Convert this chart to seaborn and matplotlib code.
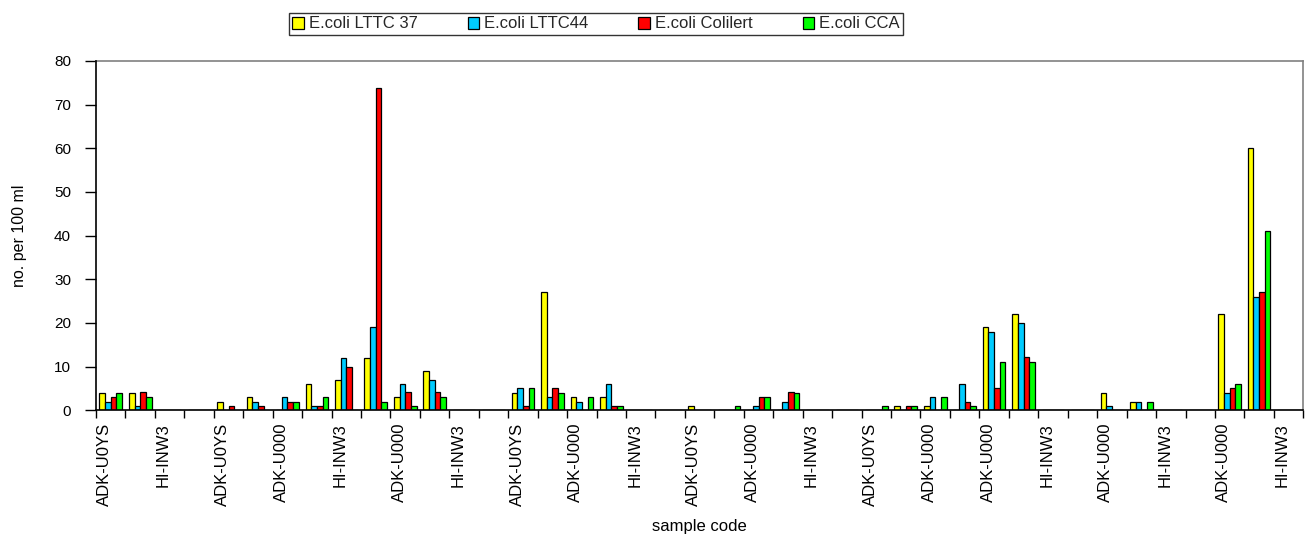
import numpy as np
import pandas as pd
import matplotlib
matplotlib.use("Agg")
import matplotlib.pyplot as plt
import matplotlib.transforms as mtransforms
import seaborn as sns

# ---- data ----
series_names = ["E.coli LTTC 37", "E.coli LTTC44", "E.coli Colilert", "E.coli CCA"]
series_colors = ["#FFFF00", "#00CCFF", "#FF0000", "#00FF00"]

lttc37 = [4, 4, 0, 0, 2, 3, 0, 6, 7, 12, 3, 9, 0, 0, 4, 27, 3, 3, 0, 0, 1,
          0, 0, 0, 0, 0, 0, 1, 1, 0, 19, 22, 0, 0, 4, 2, 0, 0, 22, 60, 0]
lttc44 = [2, 1, 0, 0, 0, 2, 3, 1, 12, 19, 6, 7, 0, 0, 5, 3, 2, 6, 0, 0, 0,
          0, 1, 2, 0, 0, 0, 0, 3, 6, 18, 20, 0, 0, 1, 2, 0, 0, 4, 26, 0]
colilert = [3.1, 4.1, 0, 0, 1, 1, 2, 1, 10, 73.8, 4.1, 4.1, 0, 0, 1, 5.2, 0, 1, 0, 0, 0,
            0, 3.1, 4.1, 0, 0, 0, 1, 0, 2, 5.2, 12.2, 0, 0, 0, 0, 0, 0, 5.2, 27, 0]
cca = [4, 3, 0, 0, 0, 0, 2, 3, 0, 2, 1, 3, 0, 0, 5, 4, 3, 1, 0, 0, 0,
       1, 3, 4, 0, 0, 1, 1, 3, 1, 11, 11, 0, 0, 0, 2, 0, 0, 6, 41, 0]

# labels shown under every second sample
shown_labels = ["ADK-U0YS", "HI-INW3", "ADK-U0YS", "ADK-U000", "HI-INW3", "ADK-U000",
                "HI-INW3", "ADK-U0YS", "ADK-U000", "HI-INW3", "ADK-U0YS", "ADK-U000",
                "HI-INW3", "ADK-U0YS", "ADK-U000", "ADK-U000", "HI-INW3", "ADK-U000",
                "HI-INW3", "ADK-U000", "HI-INW3"]

y_ticks = [0, 10, 20, 30, 40, 50, 60, 70, 80]

n = len(lttc37)
sample_idx = list(range(n))
df = pd.DataFrame({
    "sample": sample_idx * 4,
    "series": sum([[s] * n for s in series_names], []),
    "value": lttc37 + lttc44 + colilert + cca,
})

# ---- plot ----
sns.set_theme(style="white")
plt.rcParams["font.family"] = ["Liberation Sans", "DejaVu Sans"]

fig = plt.figure(figsize=(13.09, 5.38), dpi=100)
ax = fig.add_axes([96 / 1309, 1 - 410.3 / 538, (1303.3 - 96) / 1309, (410.3 - 61) / 538])

sns.barplot(data=df, x="sample", y="value", hue="series", order=sample_idx,
            hue_order=series_names, palette=series_colors, width=0.77,
            edgecolor="black", linewidth=0.9, errorbar=None, ax=ax, saturation=1)

ax.set_xlim(-0.5, n - 0.5)
ax.set_ylim(0, 80)
ax.set_yticks(y_ticks)
ax.set_yticklabels([str(v) for v in y_ticks], fontsize=11, color="black")

# boundary ticks (major, no labels) + centred labels (minor)
ax.set_xticks(np.arange(-0.5, n, 1.0))
ax.set_xticklabels([])
ax.set_xticks(np.arange(0, n, 2), minor=True)
ax.set_xticklabels(shown_labels, minor=True, rotation=90, fontsize=12, color="black")
ax.tick_params(axis="x", which="major", direction="out", length=6, width=1, color="black", bottom=True)
ax.tick_params(axis="x", which="minor", length=0, pad=9, bottom=True)
ax.tick_params(axis="y", direction="out", length=8, width=1, color="black", left=True, pad=10)
off = mtransforms.ScaledTranslation(-6 / 100, 0, fig.dpi_scale_trans)
for lbl in ax.get_xticklabels(minor=True):
    lbl.set_transform(lbl.get_transform() + off)
    lbl.set_verticalalignment("top")

for side in ["left", "bottom"]:
    ax.spines[side].set_color("black")
    ax.spines[side].set_linewidth(1.2)
for side in ["top", "right"]:
    ax.spines[side].set_color("#808080")
    ax.spines[side].set_linewidth(1.2)
ax.spines["left"].set_zorder(5)

ax.set_xlabel("sample code", fontsize=12, color="black")
ax.set_ylabel("no. per 100 ml", fontsize=11.5, color="black")
ax.xaxis.set_label_coords(0.5, -0.31)
ax.yaxis.set_label_coords(-0.057, 0.5)

handles, labels = ax.get_legend_handles_labels()
if ax.get_legend() is not None:
    ax.get_legend().remove()
leg = ax.legend(handles, labels, loc="center", bbox_to_anchor=(596 / 1309, 1 - 24 / 538),
                bbox_transform=fig.transFigure, ncol=4, frameon=True, fancybox=False,
                edgecolor="black", fontsize=12, handlelength=0.7, handleheight=0.7,
                handletextpad=0.3, columnspacing=3.0, borderpad=0.2, borderaxespad=0)
leg.get_frame().set_linewidth(1.0)
leg.get_frame().set_facecolor("white")

fig.savefig("out.png", dpi=100)
